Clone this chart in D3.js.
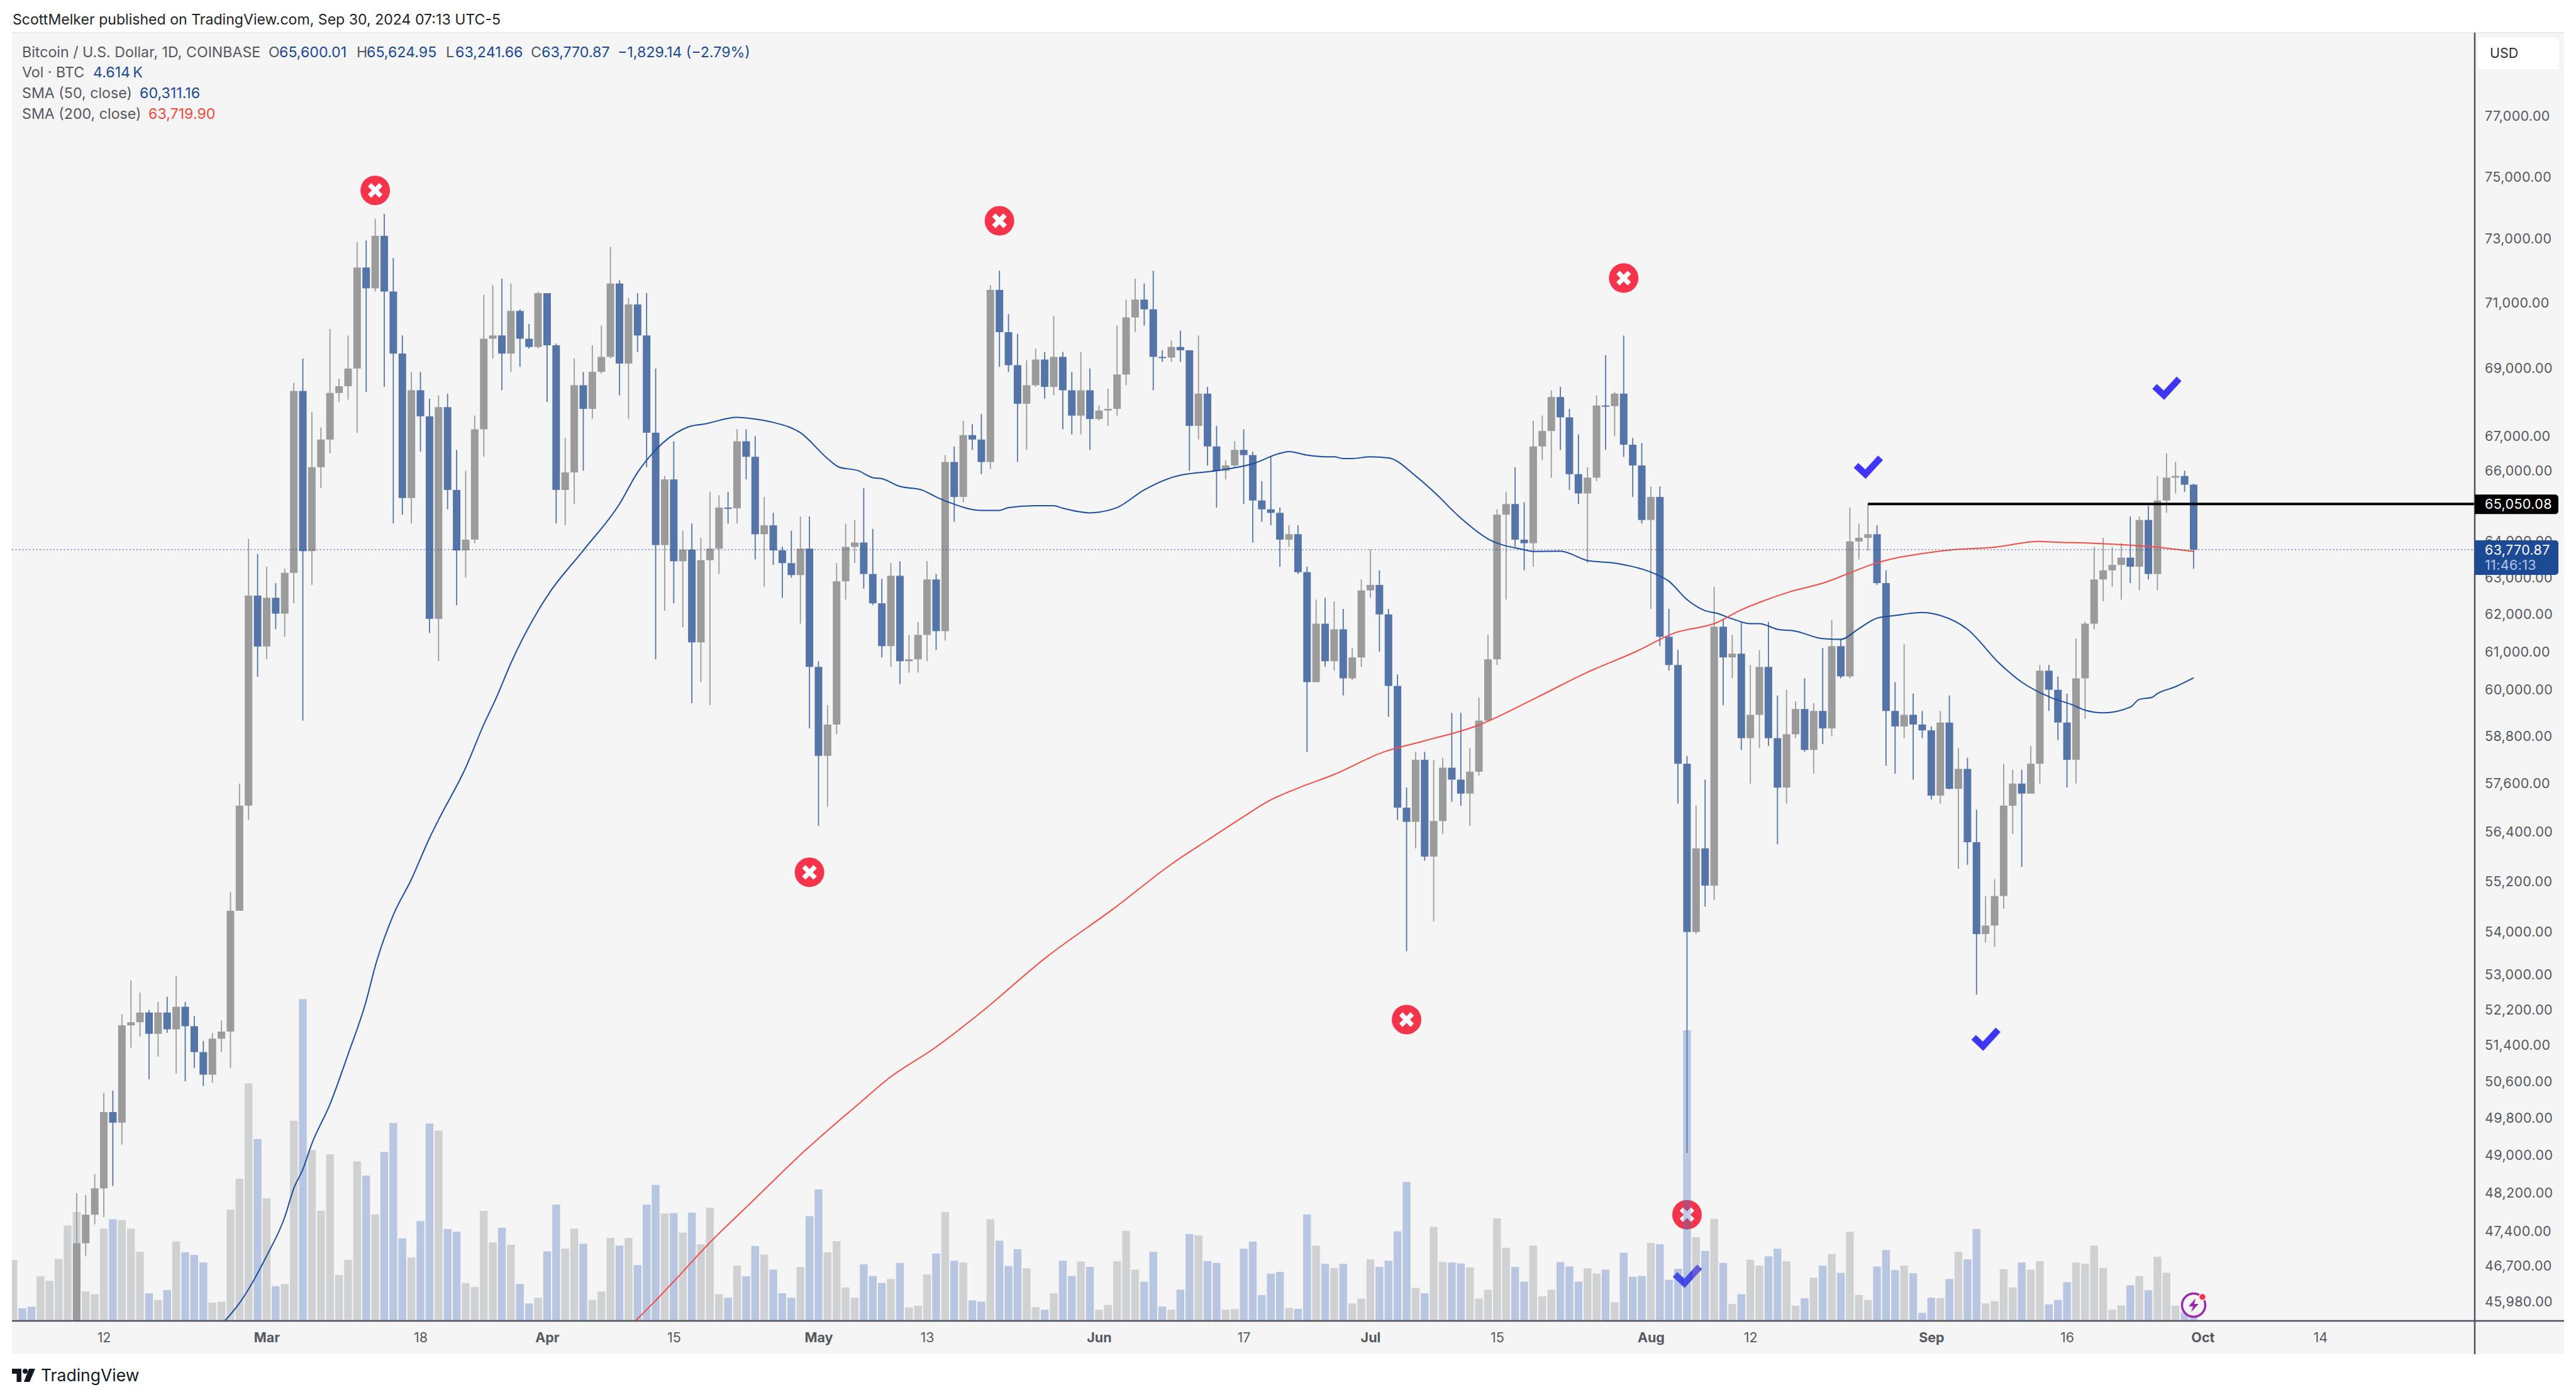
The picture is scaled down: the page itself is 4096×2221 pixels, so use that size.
<!DOCTYPE html>
<html><head><meta charset="utf-8">
<script src="https://cdn.jsdelivr.net/npm/d3@7/dist/d3.min.js"></script>
<style>html,body{margin:0;padding:0;background:#fff}svg{display:block}text{font-family:Inter,"Noto Sans",sans-serif}</style>
</head><body><div id="c"></div>
<script>
// All prices in thousands of USD, daily from 2 Feb 2024 to 30 Sep 2024
const firstDay = Date.UTC(2024, 1, 2);
const opens = [43.08,43.19,43.0,42.58,42.66,43.09,44.35,45.3,47.16,47.75,48.3,49.93,49.7,51.85,51.92,52.14,51.66,52.14,51.76,52.27,51.83,51.25,50.75,51.55,51.71,54.5,57.05,62.51,
61.14,62.45,62.02,63.13,68.33,63.73,66.1,66.9,68.27,68.47,69.0,72.1,71.45,73.1,71.35,69.45,65.22,68.35,67.58,61.88,67.85,65.45,63.75,64.05,67.2,69.9,70.0,69.45,70.75,69.9,69.65,
71.3,69.7,65.45,65.95,68.5,67.8,68.9,69.35,71.6,69.15,70.95,70.0,67.1,63.9,65.75,63.45,63.77,61.25,63.48,63.8,64.95,64.93,66.85,66.4,64.2,64.45,63.75,63.4,63.07,63.8,
60.6,58.3,59.1,62.9,63.85,63.97,63.1,62.3,61.15,63.05,60.75,60.8,61.45,62.95,61.55,66.25,65.25,67.03,66.9,66.25,71.4,70.1,69.1,67.95,68.5,69.27,68.45,69.35,68.35,67.6,68.35,
67.5,67.75,67.8,68.82,70.55,71.1,70.8,69.35,69.33,69.65,69.55,67.3,68.25,66.7,66.0,66.15,66.6,66.45,65.15,64.9,64.8,64.05,64.2,63.15,60.2,61.75,60.75,61.6,60.3,60.85,
62.65,62.8,62.0,60.1,57.0,56.65,58.2,55.8,56.67,58.0,57.7,57.35,57.9,59.2,60.8,64.75,65.05,64.05,63.95,66.7,67.15,68.15,67.55,65.9,65.35,65.8,67.9,67.88,68.25,66.75,66.15,
64.6,65.25,61.4,60.65,58.1,54.0,56.0,55.1,61.67,60.85,60.95,58.75,59.35,60.6,58.75,57.5,58.85,59.5,58.45,59.45,59.0,61.15,60.35,64.0,64.1,64.2,62.85,59.45,59.05,59.35,59.1,
58.95,57.3,59.15,57.47,57.97,56.15,53.95,54.15,54.85,57.05,57.6,57.35,58.1,60.5,60.0,59.15,58.2,60.3,61.75,62.95,63.2,63.35,63.55,63.3,64.6,63.1,65.15,65.8,65.85,65.60001];
const closes = [43.19,43.0,42.58,42.66,43.09,44.35,45.3,47.16,47.75,48.3,49.93,49.7,51.85,51.92,52.14,51.66,52.14,51.76,52.27,51.83,51.25,50.75,51.55,51.71,54.5,57.05,62.51,61.14,
62.45,62.02,63.13,68.33,63.73,66.1,66.9,68.27,68.47,69.0,72.1,71.45,73.1,71.35,69.45,65.22,68.35,67.58,61.88,67.85,65.45,63.75,64.05,67.2,69.9,70.0,69.45,70.75,69.9,69.65,71.3,
69.7,65.45,65.95,68.5,67.8,68.9,69.35,71.6,69.15,70.95,70.0,67.1,63.9,65.75,63.45,63.77,61.25,63.48,63.8,64.95,64.93,66.85,66.4,64.2,64.45,63.75,63.4,63.07,63.8,60.6,
58.3,59.1,62.9,63.85,63.97,63.1,62.3,61.15,63.05,60.75,60.8,61.45,62.95,61.55,66.25,65.25,67.03,66.9,66.25,71.4,70.1,69.1,67.95,68.5,69.27,68.45,69.35,68.35,67.6,68.35,67.5,
67.75,67.8,68.82,70.55,71.1,70.8,69.35,69.33,69.65,69.55,67.3,68.25,66.7,66.0,66.15,66.6,66.45,65.15,64.9,64.8,64.05,64.2,63.15,60.2,61.75,60.75,61.6,60.3,60.85,62.65,
62.8,62.0,60.1,57.0,56.65,58.2,55.8,56.67,58.0,57.7,57.35,57.9,59.2,60.8,64.75,65.05,64.05,63.95,66.7,67.15,68.15,67.55,65.9,65.35,65.8,67.9,67.88,68.25,66.75,66.15,64.6,
65.25,61.4,60.65,58.1,54.0,56.0,55.1,61.67,60.85,60.95,58.75,59.35,60.6,58.75,57.5,58.85,59.5,58.45,59.45,59.0,61.15,60.35,64.0,64.1,64.2,62.85,59.45,59.05,59.35,59.1,58.95,
57.3,59.15,57.47,57.97,56.15,53.95,54.15,54.85,57.05,57.6,57.35,58.1,60.5,60.0,59.15,58.2,60.3,61.75,62.95,63.2,63.35,63.55,63.3,64.6,63.1,65.15,65.8,65.85,65.60001,63.77087];
const highs = [43.4,43.4,43.1,43.5,43.4,44.5,45.55,48.2,48.16,48.6,50.35,50.4,52.1,52.87,52.6,52.2,52.38,52.5,52.97,52.38,52.06,51.5,51.68,51.96,54.95,57.6,64.07,63.65,
63.3,62.85,63.25,68.57,69.3,67.7,67.25,70.2,68.7,70.0,72.9,72.95,73.65,73.8,72.4,70.0,68.9,68.9,68.1,68.2,68.25,66.6,66.0,67.6,71.25,71.55,71.75,71.6,70.8,70.35,71.35,
71.3,69.75,66.95,69.3,68.9,69.7,70.3,72.75,71.7,71.15,71.3,71.3,69.0,65.85,66.85,64.3,64.5,64.1,65.4,65.3,65.4,67.2,67.2,67.0,65.25,64.8,63.85,64.3,64.7,64.7,
60.75,59.6,63.4,64.5,64.6,65.5,64.35,62.97,63.4,63.45,61.45,61.8,63.45,63.1,66.45,66.7,67.45,67.35,67.65,71.55,72.0,70.65,70.05,69.25,69.6,69.5,70.6,69.5,68.9,69.5,69.0,
67.9,68.4,70.3,71.1,71.75,71.6,72.0,69.55,69.85,70.15,69.55,70.0,68.45,67.3,66.3,66.85,67.2,66.55,65.7,66.4,64.95,64.45,64.45,63.3,62.4,62.45,62.35,62.15,61.1,62.95,
63.78,63.2,62.15,60.4,57.5,58.4,58.4,58.2,58.25,59.4,59.4,58.5,59.8,61.45,64.9,65.4,66.1,65.1,67.45,67.6,68.35,68.45,67.8,67.05,66.1,68.2,69.4,68.3,70.0,66.95,66.8,
65.55,65.55,62.15,61.05,58.3,57.05,57.7,62.75,61.85,61.45,61.8,60.65,61.05,61.8,59.85,60.0,59.7,60.3,59.65,61.1,61.85,61.35,64.95,64.5,65.05,64.45,63.2,60.2,61.2,59.9,59.45,
59.05,59.45,59.85,58.5,58.25,56.95,54.85,55.25,58.1,57.95,57.95,58.55,60.65,60.65,60.35,59.9,61.35,61.8,63.85,64.1,63.85,63.95,64.7,64.7,65.0,65.85,66.5,66.25,66.0,65.62495];
const lows = [42.6,42.9,42.3,42.2,42.6,42.8,44.3,45.0,46.9,47.55,47.7,48.35,49.23,51.35,51.6,50.65,51.15,51.68,50.77,50.6,50.9,50.5,50.57,51.25,50.9,54.5,56.7,60.34,
60.8,61.6,61.4,62.3,59.2,62.8,65.5,66.5,68.0,68.07,67.1,68.3,71.35,68.45,64.5,64.75,64.5,66.55,61.5,60.75,64.9,62.25,63.0,63.95,66.4,69.3,68.35,68.9,69.05,69.6,69.6,
68.0,64.5,64.45,65.05,66.0,67.5,68.85,69.3,68.2,67.5,69.5,66.1,60.8,62.1,62.3,61.65,59.65,60.2,59.6,63.1,64.5,64.5,65.75,63.5,62.75,63.35,62.45,63.0,61.75,59.0,
56.55,57.02,58.85,62.4,63.4,62.7,62.25,60.85,60.6,60.15,60.45,60.45,60.75,61.05,61.3,64.55,65.1,66.6,65.9,66.05,69.05,68.9,66.25,66.6,68.45,68.1,68.2,67.2,67.05,67.05,66.6,
67.45,67.3,67.6,68.5,70.1,70.3,68.35,69.2,69.2,69.2,66.0,66.9,66.15,64.95,65.75,66.1,65.05,63.97,64.55,64.45,63.3,63.85,63.1,58.4,60.2,60.6,60.5,59.85,60.25,60.6,
62.45,61.0,59.3,56.7,53.55,56.0,55.7,54.25,56.35,57.15,57.05,56.55,57.8,59.2,60.65,62.4,63.85,63.2,63.3,66.3,65.8,66.6,65.45,65.05,63.4,65.7,66.6,67.0,66.4,65.25,64.5,
62.15,61.15,60.5,57.1,49.05,53.95,54.6,54.75,59.6,60.3,58.45,57.6,58.5,58.55,56.1,57.1,58.75,58.4,57.85,58.6,58.8,60.3,60.3,63.5,63.75,62.8,58.05,57.85,58.75,57.7,58.75,
57.2,57.1,57.45,55.5,55.6,52.55,53.75,53.65,54.55,56.35,55.55,57.35,57.6,59.45,58.7,57.5,57.6,59.25,61.6,62.35,62.75,62.4,62.85,62.65,62.95,62.65,64.8,65.35,65.4,63.24166];
// Volume in thousands of BTC
const volumes = [13.7,2.8,3.2,10.0,9.0,13.9,21.4,24.4,6.6,6.0,20.7,22.8,22.6,20.7,15.5,6.2,4.7,6.9,17.8,15.4,14.8,13.1,4.1,4.3,25.0,31.9,53.3,40.8,
27.5,7.8,8.3,44.9,72.2,38.3,24.7,37.4,10.3,13.7,35.8,32.6,23.9,37.9,44.4,18.5,14.2,22.4,44.3,42.7,20.6,20.0,8.5,7.6,24.7,17.6,20.9,17.1,8.3,3.9,5.2,
15.6,26.1,16.2,20.7,17.3,4.7,6.6,18.6,16.9,18.6,12.5,26.1,30.5,24.1,24.2,19.8,24.3,17.2,25.4,6.0,5.2,12.4,10.0,16.8,14.9,11.5,6.2,5.2,12.1,23.5,
29.5,15.4,17.9,7.5,5.2,12.7,10.1,8.5,9.4,13.0,3.0,3.4,10.4,15.1,24.4,13.5,13.1,4.6,4.3,22.8,18.0,12.3,16.1,11.8,3.1,2.5,6.2,13.5,10.1,13.3,12.1,
2.5,3.6,13.4,20.2,11.5,8.8,15.5,3.2,2.5,7.0,19.5,19.2,13.4,13.0,2.5,2.7,16.2,17.8,5.8,10.6,11.0,2.9,2.7,23.9,16.9,12.8,11.9,12.8,3.9,5.0,
13.8,12.1,13.5,20.1,31.2,7.4,6.2,21.1,13.2,13.1,12.9,12.0,5.0,7.0,23.0,16.4,12.1,8.8,16.9,5.5,7.0,13.2,12.2,8.8,11.8,10.6,11.5,4.2,15.3,9.9,10.1,
17.5,17.2,9.2,11.7,65.2,18.8,15.7,22.9,13.0,3.8,6.0,13.7,12.4,14.5,16.2,13.4,3.4,5.1,9.7,12.4,15.0,10.8,20.0,5.8,4.7,12.2,15.9,11.4,12.4,10.7,1.8,
5.2,5.1,9.4,15.5,13.8,20.6,3.9,4.4,11.6,7.5,13.1,11.5,13.4,3.7,4.7,8.7,13.1,12.8,16.9,11.9,2.5,3.5,8.0,10.1,6.9,14.4,10.8,3.4,1.9,4.614];
// Moving averages: days after 1 Mar 2024, value in thousands of USD
const sma50Days = [-4.6,-3,0,2,3,4,5,7,9,11,12,14,16,18,19,22,24,25.4,27,30,31.3,35,39,41,43,46,47,48.3,52,54,56,59,62,63.3,65.4,67,68,70,72.4,74,75.4,79,81,82,85,87,88,91,92,94,97,100,101,105,109,112,113,115,117,118,119,120,122,124,127,129,132,135,139,140,143,146,149,153,155,157,159,160.3,162,164,165,167,169,172,174,176,178,180,183,185,188,191.5,194,197.2,199.7,201,203,206,207,208.4,209,211,213];
const sma50Values = [45.6,45.95,46.9,47.7,48.3,48.7,49.25,50.1,51.2,52.4,53.2,54.4,55.25,56.25,56.7,58.0,59.1,59.8,60.7,62.1,62.6,63.75,65.05,65.95,66.6,67.2,67.3,67.35,67.55,67.5,67.4,67.1,66.35,66.1,66.0,65.8,65.77,65.55,65.45,65.25,65.1,64.87,64.87,64.95,65.0,65.0,64.93,64.8,64.82,64.95,65.45,65.8,65.87,66.0,66.2,66.5,66.55,66.45,66.4,66.4,66.35,66.35,66.4,66.37,65.85,65.4,64.65,64.07,63.77,63.72,63.73,63.47,63.4,63.15,62.9,62.4,62.1,62.03,61.88,61.75,61.75,61.6,61.55,61.35,61.33,61.62,61.9,61.97,62.05,61.97,61.6,60.7,60.2,59.8,59.6,59.47,59.4,59.55,59.75,59.8,59.9,60.08,60.31116];
const sma200Days = [40.8,43,45.6,48.6,53.7,59.5,63,65.4,68.7,73.9,79,86,93.8,99.9,104,107.8,110.8,113.8,118,123.5,127.8,133.8,140.4,145.9,151.3,155.6,160.3,162.8,165.5,168.2,172.4,174.9,177.3,180.3,182.7,187,190.6,196,197.8,202,205.7,209.3,213];
const sma200Values = [45.6,46.0,46.5,47.1,48.03,49.1,49.7,50.1,50.66,51.35,52.15,53.38,54.58,55.6,56.2,56.75,57.17,57.47,57.83,58.4,58.67,59.07,59.8,60.45,61.0,61.5,61.78,62.1,62.37,62.6,62.88,63.12,63.35,63.55,63.65,63.78,63.83,64.0,63.98,63.95,63.9,63.83,63.7199];
const priceTicks = [77,75,73,71,69,67,66,64,63,62,61,60,58.8,57.6,56.4,55.2,54,53,52.2,51.4,50.6,49.8,49,48.2,47.4,46.7,45.98];
const timeTicks = [[1,12,"12"],[2,1,"Mar"],[2,18,"18"],[3,1,"Apr"],[3,15,"15"],[4,1,"May"],[4,13,"13"],[5,1,"Jun"],[5,17,"17"],[6,1,"Jul"],[6,15,"15"],[7,1,"Aug"],[7,12,"12"],[8,1,"Sep"],[8,16,"16"],[9,1,"Oct"],[9,14,"14"]];
const crossMarks = [[2,13,74.56],[4,21,73.58],[6,29,71.77],[3,30,55.42],[6,5,51.98],[7,5,47.75]];
const checkMarks = [[7,25,66.09],[8,27,68.4],[8,7,51.53],[7,5,46.48]];
const levelStart = [7,25]; const levelValue = 65.05008; const lastClose = 63.77087;

const W=4096,H=2221,L=19,R=3935,PR=4077,T=52,B=2100,PB=2153;
const GREY="#9b9b9b",BLUE="#5575a8",TXT="#555860",NAVY="#1c4a94",RED="#f0493e";
const x=d3.scaleUtc().domain([firstDay,Date.UTC(2024,9,1)]).range([21.2,3502.4]);
const y=d3.scaleLog().domain([77,45.594]).range([185,B]);
const yv=d3.scaleLinear().domain([0,72.2]).range([B,B-511.6]);
const dayX=i=>x(firstDay+i*864e5);
const offX=d=>x(Date.UTC(2024,2,1)+d*864e5);
const svg=d3.select("#c").append("svg").attr("width",W).attr("height",H).attr("viewBox",`0 0 ${W} ${H}`);
svg.append("rect").attr("width",W).attr("height",H).attr("fill","#fff");
svg.append("rect").attr("x",L).attr("y",T).attr("width",PR-L).attr("height",PB-T).attr("fill","#f5f5f5");
svg.append("line").attr("x1",L).attr("x2",PR).attr("y1",T).attr("y2",T).attr("stroke","#ebebeb").attr("stroke-width",2);
svg.append("defs").append("clipPath").attr("id","plot").append("rect").attr("x",L).attr("y",T).attr("width",R-L).attr("height",B-T);
const g=svg.append("g").attr("clip-path","url(#plot)");

// annotations below the volume layer
const crosses=g.append("g").selectAll("g").data(crossMarks).join("g")
 .attr("transform",d=>`translate(${x(Date.UTC(2024,d[0],d[1]))},${y(d[2])})`);
crosses.append("circle").attr("r",23.5).attr("fill","#f5344b");
crosses.append("path").attr("d","M-9,-9L9,9M9,-9L-9,9").attr("stroke","#fff").attr("stroke-width",7.5).attr("fill","none");
g.append("g").selectAll("path").data(checkMarks).join("path")
 .attr("transform",d=>`translate(${x(Date.UTC(2024,d[0],d[1]))},${y(d[2])-2.5})`)
 .attr("d","M-19,-1L-4,13L20,-13").attr("fill","none").attr("stroke","#3f35f6").attr("stroke-width",10.5);

// volume
g.append("g").selectAll("rect").data(volumes).join("rect")
 .attr("x",(d,i)=>dayX(i)-6.2).attr("width",12.4).attr("y",d=>yv(d)).attr("height",d=>B-yv(d))
 .attr("fill",(d,i)=>closes[i]<opens[i]?"rgba(78,118,192,.37)":"rgba(150,154,160,.4)");

// candles
const cg=g.append("g").selectAll("g").data(closes).join("g").attr("fill",(d,i)=>d<opens[i]?BLUE:GREY);
cg.append("rect").attr("x",(d,i)=>dayX(i)-.9).attr("width",1.8).attr("y",(d,i)=>y(highs[i])).attr("height",(d,i)=>y(lows[i])-y(highs[i]));
cg.append("rect").attr("x",(d,i)=>dayX(i)-6).attr("width",12).attr("y",(d,i)=>y(Math.max(d,opens[i])))
 .attr("height",(d,i)=>Math.max(2,Math.abs(y(d)-y(opens[i]))));

// averages
const mk=(days,vals,col)=>g.append("path").attr("d",d3.line().curve(d3.curveMonotoneX).x(d=>offX(d)).y((d,i)=>y(vals[i]))(days)).attr("fill","none").attr("stroke",col).attr("stroke-width",2);
mk(sma50Days,sma50Values,"#1c4f9e");
mk(sma200Days,sma200Values,"#ef4f46");

// last price dotted line and drawn level
g.append("line").attr("x1",L).attr("x2",R).attr("y1",y(lastClose)).attr("y2",y(lastClose)).attr("stroke",NAVY).attr("stroke-width",1.3).attr("stroke-opacity",.8).attr("stroke-dasharray","2 3.5");
g.append("line").attr("x1",x(Date.UTC(2024,levelStart[0],levelStart[1]))).attr("x2",R).attr("y1",y(levelValue)).attr("y2",y(levelValue)).attr("stroke","#000").attr("stroke-width",4);

// axes
const fmt=d3.format(",.2f");
const ya=svg.append("g").attr("transform",`translate(${R},0)`).call(d3.axisRight(y).tickValues(priceTicks).tickSize(0).tickPadding(16).tickFormat(v=>fmt(v*1000)));
ya.select(".domain").remove();
ya.selectAll("text").attr("font-size",21.5).attr("fill",TXT).attr("letter-spacing",.35).style("font-family","Inter");
const xa=svg.append("g").attr("transform",`translate(0,${B})`).call(d3.axisBottom(x).tickValues(timeTicks.map(t=>new Date(Date.UTC(2024,t[0],t[1])))).tickSize(0).tickPadding(19).tickFormat((d,i)=>timeTicks[i][2]));
xa.select(".domain").remove();
xa.selectAll("text").attr("font-size",21.5).attr("fill",TXT).attr("font-weight",(d,i)=>timeTicks[i][1]===1?700:400).style("font-family","Inter");
svg.append("line").attr("x1",L).attr("x2",PR).attr("y1",B).attr("y2",B).attr("stroke","#50535e").attr("stroke-width",2.5);
svg.append("line").attr("x1",R).attr("x2",R).attr("y1",T).attr("y2",PB).attr("stroke","#50535e").attr("stroke-width",2.5);

// price labels
const tag=(y0,h,fill)=>svg.append("path").attr("d",`M${R},${y0}H4063a5,5 0 0 1 5,5V${y0+h-5}a5,5 0 0 1 -5,5H${R}Z`).attr("fill",fill);
tag(y(levelValue)-15,31,"#000");
svg.append("text").attr("x",3951).attr("y",y(levelValue)+8).attr("font-size",21.5).attr("letter-spacing",.35).attr("fill","#fff").text(fmt(levelValue*1000));
tag(y(lastClose)-15,55,NAVY);
svg.append("text").attr("x",3951).attr("y",y(lastClose)+8).attr("font-size",21.5).attr("letter-spacing",.35).attr("fill","#fff").text(fmt(lastClose*1000));
svg.append("text").attr("x",3951).attr("y",y(lastClose)+32).attr("font-size",21.5).attr("letter-spacing",.35).attr("fill","#b4c6e6").text("11:46:13");

// USD button
svg.append("rect").attr("x",3940).attr("y",60).attr("width",129).attr("height",50).attr("rx",6).attr("fill","#fff");
svg.append("text").attr("x",3959).attr("y",92).attr("font-size",21.5).attr("fill","#2a2e39").text("USD");

// header and legend
svg.append("text").attr("x",20).attr("y",39).attr("font-size",23.1).attr("fill","#1f2329").text("ScottMelker published on TradingView.com, Sep 30, 2024 07:13 UTC-5");
const legend=[[35,91,"Bitcoin / U.S. Dollar, 1D, COINBASE",TXT],[427,91,"O",TXT],[444,91,"65,600.01",NAVY],[567,91,"H",TXT],[583,91,"65,624.95",NAVY],[709,91,"L",TXT],[724,91,"63,241.66",NAVY],[844,91,"C",TXT],[861,91,"63,770.87",NAVY],[982,91,"\u22121,829.14 (\u22122.79%)",NAVY],
[35,123,"Vol \u00b7 BTC",TXT],[148,123,"4.614\u2009K",NAVY],[35,156,"SMA (50, close)",TXT],[222,156,"60,311.16",NAVY],[35,189,"SMA (200, close)",TXT],[236,189,"63,719.90",RED]];
svg.append("g").selectAll("text").data(legend).join("text").attr("x",d=>d[0]).attr("y",d=>d[1]).attr("fill",d=>d[3]).attr("font-size",23.2).text(d=>d[2]);

// TradingView logo
const lg=svg.append("g").attr("transform","translate(19,2176)").attr("fill","#131722");
lg.append("path").attr("d","M0,0H15V21H7.5V8H0Z");
lg.append("circle").attr("cx",21).attr("cy",4).attr("r",4);
lg.append("path").attr("d","M27,0H37L28,21H19Z");
svg.append("text").attr("x",65).attr("y",2196).attr("font-size",26.5).attr("fill","#131722").text("TradingView");

// lightning badge
const bx=x(Date.UTC(2024,8,30)),by=2075;
svg.append("circle").attr("cx",bx).attr("cy",by).attr("r",18.5).attr("fill","#f5f5f5").attr("stroke","#9c27b0").attr("stroke-width",3.5);
svg.append("path").attr("transform",`translate(${bx},${by})`).attr("d","M3,-11L-8,2H-1L-4,11L8,-2H1Z").attr("fill","#9c27b0");
svg.append("circle").attr("cx",bx+14).attr("cy",by-13).attr("r",5.5).attr("fill","#f23645").attr("stroke","#f5f5f5").attr("stroke-width",1.5);
</script></body></html>
